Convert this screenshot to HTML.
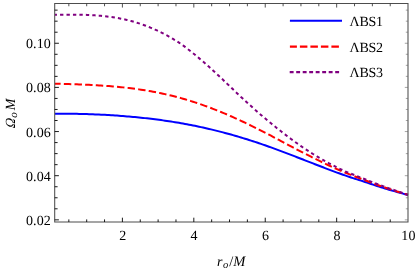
<!DOCTYPE html>
<html><head><meta charset="utf-8"><title>plot</title>
<style>
html,body{margin:0;padding:0;background:#fff;}
svg{display:block;}
text{font-family:"Liberation Serif","DejaVu Serif",serif;font-size:14px;fill:#000;text-rendering:geometricPrecision;stroke:none;}
.it{font-style:italic;}
.lg{letter-spacing:-0.3px;}
.tk{letter-spacing:0.15px;}
</style></head><body>
<svg width="415" height="271" viewBox="0 0 415 271">
<rect width="415" height="271" fill="#fff"/>
<g fill="none" stroke-linejoin="round">
<path d="M55.0,113.82 L57.0,113.79 L59.0,113.77 L61.0,113.75 L63.0,113.74 L65.0,113.74 L67.0,113.74 L69.0,113.75 L71.0,113.76 L73.0,113.78 L75.0,113.81 L77.0,113.84 L79.0,113.88 L81.0,113.93 L83.0,113.98 L85.0,114.03 L87.0,114.09 L89.0,114.16 L91.0,114.23 L93.0,114.30 L95.0,114.39 L97.0,114.47 L99.0,114.56 L101.0,114.66 L103.0,114.76 L105.0,114.87 L107.0,114.98 L109.0,115.10 L111.0,115.22 L113.0,115.35 L115.0,115.48 L117.0,115.62 L119.0,115.76 L121.0,115.91 L123.0,116.06 L125.0,116.22 L127.0,116.38 L129.0,116.55 L131.0,116.73 L133.0,116.91 L135.0,117.10 L137.0,117.29 L139.0,117.49 L141.0,117.69 L143.0,117.91 L145.0,118.12 L147.0,118.35 L149.0,118.58 L151.0,118.81 L153.0,119.06 L155.0,119.31 L157.0,119.56 L159.0,119.83 L161.0,120.10 L163.0,120.37 L165.0,120.66 L167.0,120.95 L169.0,121.25 L171.0,121.56 L173.0,121.87 L175.0,122.19 L177.0,122.52 L179.0,122.86 L181.0,123.21 L183.0,123.56 L185.0,123.92 L187.0,124.29 L189.0,124.67 L191.0,125.05 L193.0,125.45 L195.0,125.85 L197.0,126.26 L199.0,126.68 L201.0,127.11 L203.0,127.55 L205.0,127.99 L207.0,128.45 L209.0,128.91 L211.0,129.38 L213.0,129.86 L215.0,130.35 L217.0,130.85 L219.0,131.35 L221.0,131.87 L223.0,132.39 L225.0,132.92 L227.0,133.46 L229.0,134.01 L231.0,134.57 L233.0,135.14 L235.0,135.71 L237.0,136.29 L239.0,136.88 L241.0,137.48 L243.0,138.09 L245.0,138.71 L247.0,139.33 L249.0,139.96 L251.0,140.60 L253.0,141.24 L255.0,141.90 L257.0,142.56 L259.0,143.22 L261.0,143.90 L263.0,144.58 L265.0,145.28 L267.0,145.98 L269.0,146.69 L271.0,147.40 L273.0,148.13 L275.0,148.86 L277.0,149.59 L279.0,150.33 L281.0,151.08 L283.0,151.83 L285.0,152.59 L287.0,153.35 L289.0,154.12 L291.0,154.89 L293.0,155.66 L295.0,156.43 L297.0,157.21 L299.0,157.98 L301.0,158.76 L303.0,159.54 L305.0,160.32 L307.0,161.10 L309.0,161.87 L311.0,162.65 L313.0,163.43 L315.0,164.20 L317.0,164.98 L319.0,165.75 L321.0,166.53 L323.0,167.30 L325.0,168.07 L327.0,168.83 L329.0,169.60 L331.0,170.36 L333.0,171.11 L335.0,171.85 L337.0,172.58 L339.0,173.30 L341.0,174.01 L343.0,174.72 L345.0,175.42 L347.0,176.11 L349.0,176.78 L351.0,177.43 L353.0,178.08 L355.0,178.71 L357.0,179.34 L359.0,179.98 L361.0,180.62 L363.0,181.26 L365.0,181.93 L367.0,182.60 L369.0,183.28 L371.0,183.95 L373.0,184.62 L375.0,185.28 L377.0,185.94 L379.0,186.58 L381.0,187.22 L383.0,187.85 L385.0,188.47 L387.0,189.08 L389.0,189.67 L391.0,190.26 L393.0,190.84 L395.0,191.41 L397.0,191.98 L399.0,192.54 L401.0,193.09 L403.0,193.63 L405.0,194.16 L407.0,194.67 L408.0,194.92" stroke="#0000ff" stroke-width="2"/>
<path d="M55.0,83.76 L57.0,83.79 L59.0,83.83 L61.0,83.88 L63.0,83.92 L65.0,83.97 L67.0,84.02 L69.0,84.08 L71.0,84.14 L73.0,84.20 L75.0,84.26 L77.0,84.33 L79.0,84.40 L81.0,84.48 L83.0,84.56 L85.0,84.65 L87.0,84.74 L89.0,84.83 L91.0,84.93 L93.0,85.03 L95.0,85.14 L97.0,85.26 L99.0,85.38 L101.0,85.51 L103.0,85.64 L105.0,85.78 L107.0,85.93 L109.0,86.08 L111.0,86.24 L113.0,86.41 L115.0,86.58 L117.0,86.77 L119.0,86.96 L121.0,87.16 L123.0,87.37 L125.0,87.58 L127.0,87.81 L129.0,88.04 L131.0,88.29 L133.0,88.55 L135.0,88.81 L137.0,89.09 L139.0,89.37 L141.0,89.67 L143.0,89.98 L145.0,90.29 L147.0,90.62 L149.0,90.97 L151.0,91.32 L153.0,91.69 L155.0,92.06 L157.0,92.45 L159.0,92.86 L161.0,93.27 L163.0,93.70 L165.0,94.14 L167.0,94.59 L169.0,95.06 L171.0,95.54 L173.0,96.04 L175.0,96.54 L177.0,97.07 L179.0,97.60 L181.0,98.15 L183.0,98.71 L185.0,99.29 L187.0,99.88 L189.0,100.48 L191.0,101.10 L193.0,101.73 L195.0,102.38 L197.0,103.04 L199.0,103.71 L201.0,104.40 L203.0,105.10 L205.0,105.82 L207.0,106.55 L209.0,107.29 L211.0,108.04 L213.0,108.81 L215.0,109.59 L217.0,110.39 L219.0,111.19 L221.0,112.01 L223.0,112.84 L225.0,113.68 L227.0,114.54 L229.0,115.40 L231.0,116.28 L233.0,117.17 L235.0,118.07 L237.0,118.97 L239.0,119.89 L241.0,120.82 L243.0,121.76 L245.0,122.71 L247.0,123.66 L249.0,124.62 L251.0,125.60 L253.0,126.57 L255.0,127.56 L257.0,128.55 L259.0,129.55 L261.0,130.56 L263.0,131.58 L265.0,132.60 L267.0,133.63 L269.0,134.68 L271.0,135.73 L273.0,136.78 L275.0,137.84 L277.0,138.90 L279.0,139.97 L281.0,141.04 L283.0,142.11 L285.0,143.18 L287.0,144.25 L289.0,145.31 L291.0,146.38 L293.0,147.44 L295.0,148.49 L297.0,149.55 L299.0,150.59 L301.0,151.63 L303.0,152.66 L305.0,153.68 L307.0,154.70 L309.0,155.72 L311.0,156.73 L313.0,157.73 L315.0,158.72 L317.0,159.71 L319.0,160.69 L321.0,161.67 L323.0,162.63 L325.0,163.59 L327.0,164.54 L329.0,165.49 L331.0,166.42 L333.0,167.33 L335.0,168.23 L337.0,169.12 L339.0,169.99 L341.0,170.85 L343.0,171.70 L345.0,172.53 L347.0,173.36 L349.0,174.16 L351.0,174.94 L353.0,175.70 L355.0,176.45 L357.0,177.20 L359.0,177.94 L361.0,178.69 L363.0,179.44 L365.0,180.20 L367.0,180.97 L369.0,181.73 L371.0,182.49 L373.0,183.24 L375.0,183.98 L377.0,184.71 L379.0,185.44 L381.0,186.15 L383.0,186.85 L385.0,187.53 L387.0,188.21 L389.0,188.87 L391.0,189.52 L393.0,190.16 L395.0,190.80 L397.0,191.43 L399.0,192.05 L401.0,192.67 L403.0,193.27 L405.0,193.86 L407.0,194.44 L408.0,194.72" stroke="#ff0000" stroke-width="2" stroke-dasharray="7.45 3.2" stroke-dashoffset="1.8"/>
<path d="M55.0,14.85 L57.0,14.80 L59.0,14.76 L61.0,14.72 L63.0,14.69 L65.0,14.66 L67.0,14.64 L69.0,14.63 L71.0,14.63 L73.0,14.63 L75.0,14.64 L77.0,14.66 L79.0,14.69 L81.0,14.73 L83.0,14.78 L85.0,14.84 L87.0,14.92 L89.0,15.00 L91.0,15.10 L93.0,15.21 L95.0,15.34 L97.0,15.48 L99.0,15.64 L101.0,15.82 L103.0,16.01 L105.0,16.22 L107.0,16.45 L109.0,16.71 L111.0,16.98 L113.0,17.27 L115.0,17.58 L117.0,17.92 L119.0,18.28 L121.0,18.67 L123.0,19.08 L125.0,19.51 L127.0,19.98 L129.0,20.47 L131.0,20.98 L133.0,21.53 L135.0,22.11 L137.0,22.71 L139.0,23.35 L141.0,24.01 L143.0,24.71 L145.0,25.44 L147.0,26.20 L149.0,27.00 L151.0,27.82 L153.0,28.67 L155.0,29.55 L157.0,30.46 L159.0,31.40 L161.0,32.37 L163.0,33.37 L165.0,34.41 L167.0,35.48 L169.0,36.59 L171.0,37.73 L173.0,38.91 L175.0,40.12 L177.0,41.38 L179.0,42.67 L181.0,44.01 L183.0,45.42 L185.0,46.89 L187.0,48.41 L189.0,49.98 L191.0,51.57 L193.0,53.19 L195.0,54.82 L197.0,56.47 L199.0,58.14 L201.0,59.83 L203.0,61.55 L205.0,63.29 L207.0,65.05 L209.0,66.83 L211.0,68.64 L213.0,70.46 L215.0,72.31 L217.0,74.17 L219.0,76.04 L221.0,77.92 L223.0,79.81 L225.0,81.70 L227.0,83.60 L229.0,85.51 L231.0,87.42 L233.0,89.34 L235.0,91.25 L237.0,93.15 L239.0,95.03 L241.0,96.90 L243.0,98.76 L245.0,100.61 L247.0,102.45 L249.0,104.28 L251.0,106.09 L253.0,107.90 L255.0,109.69 L257.0,111.47 L259.0,113.22 L261.0,114.94 L263.0,116.65 L265.0,118.33 L267.0,120.01 L269.0,121.67 L271.0,123.32 L273.0,124.96 L275.0,126.57 L277.0,128.16 L279.0,129.74 L281.0,131.30 L283.0,132.85 L285.0,134.39 L287.0,135.92 L289.0,137.43 L291.0,138.93 L293.0,140.40 L295.0,141.86 L297.0,143.29 L299.0,144.71 L301.0,146.10 L303.0,147.47 L305.0,148.82 L307.0,150.14 L309.0,151.45 L311.0,152.73 L313.0,153.99 L315.0,155.23 L317.0,156.44 L319.0,157.63 L321.0,158.80 L323.0,159.95 L325.0,161.08 L327.0,162.19 L329.0,163.28 L331.0,164.35 L333.0,165.39 L335.0,166.42 L337.0,167.43 L339.0,168.42 L341.0,169.39 L343.0,170.32 L345.0,171.22 L347.0,172.08 L349.0,172.93 L351.0,173.75 L353.0,174.55 L355.0,175.34 L357.0,176.13 L359.0,176.91 L361.0,177.69 L363.0,178.48 L365.0,179.27 L367.0,180.08 L369.0,180.88 L371.0,181.67 L373.0,182.45 L375.0,183.22 L377.0,183.99 L379.0,184.74 L381.0,185.47 L383.0,186.20 L385.0,186.92 L387.0,187.63 L389.0,188.33 L391.0,189.01 L393.0,189.70 L395.0,190.39 L397.0,191.08 L399.0,191.77 L401.0,192.45 L403.0,193.13 L405.0,193.80 L407.0,194.46 L408.0,194.78" stroke="#800080" stroke-width="2" stroke-dasharray="3.35 3.1" stroke-dashoffset="1.4"/>
</g>
<g fill="none" stroke-linecap="square">
<path d="M54.7,3.55 H408.0 V222.0 H54.7 Z" stroke="#4d4d4d" stroke-width="1.05"/>
</g>
<path d="M68.83,222.0 v-2.6 M86.69,222.0 v-2.6 M104.54,222.0 v-2.6 M122.40,222.0 v-4.3 M140.25,222.0 v-2.6 M158.11,222.0 v-2.6 M175.97,222.0 v-2.6 M193.82,222.0 v-4.3 M211.67,222.0 v-2.6 M229.53,222.0 v-2.6 M247.38,222.0 v-2.6 M265.24,222.0 v-4.3 M283.10,222.0 v-2.6 M300.95,222.0 v-2.6 M318.81,222.0 v-2.6 M336.66,222.0 v-4.3 M354.52,222.0 v-2.6 M372.37,222.0 v-2.6 M390.23,222.0 v-2.6 M54.7,219.85 h4.2 M54.7,208.81 h2.9 M54.7,197.78 h2.9 M54.7,186.74 h2.9 M54.7,175.70 h4.2 M54.7,164.66 h2.9 M54.7,153.62 h2.9 M54.7,142.59 h2.9 M54.7,131.55 h4.2 M54.7,120.51 h2.9 M54.7,109.47 h2.9 M54.7,98.44 h2.9 M54.7,87.40 h4.2 M54.7,76.36 h2.9 M54.7,65.33 h2.9 M54.7,54.29 h2.9 M54.7,43.25 h4.2 M54.7,32.21 h2.9 M54.7,21.18 h2.9 M54.7,10.14 h2.9" stroke="#000" stroke-width="0.9" fill="none"/>
<path d="M408.0,219.85 h-3.2 M408.0,208.81 h-2.2 M408.0,197.78 h-2.2 M408.0,186.74 h-2.2 M408.0,175.70 h-3.2 M408.0,164.66 h-2.2 M408.0,153.62 h-2.2 M408.0,142.59 h-2.2 M408.0,131.55 h-3.2 M408.0,120.51 h-2.2 M408.0,109.47 h-2.2 M408.0,98.44 h-2.2 M408.0,87.40 h-3.2 M408.0,76.36 h-2.2 M408.0,65.33 h-2.2 M408.0,54.29 h-2.2 M408.0,43.25 h-3.2 M408.0,32.21 h-2.2 M408.0,21.18 h-2.2 M408.0,10.14 h-2.2" stroke="#666" stroke-width="0.6" fill="none"/>
<path d="M68.83,3.55 v2.7 M86.69,3.55 v2.7 M104.54,3.55 v2.7 M122.40,3.55 v4.0 M140.25,3.55 v2.7 M158.11,3.55 v2.7 M175.97,3.55 v2.7 M193.82,3.55 v4.0 M211.67,3.55 v2.7 M229.53,3.55 v2.7 M247.38,3.55 v2.7 M265.24,3.55 v4.0 M283.10,3.55 v2.7 M300.95,3.55 v2.7 M318.81,3.55 v2.7 M336.66,3.55 v4.0 M354.52,3.55 v2.7 M372.37,3.55 v2.7 M390.23,3.55 v2.7" stroke="#333" stroke-width="0.85" fill="none"/>
<g class="tk"><text x="122.8" y="239.6" text-anchor="middle">2</text><text x="194.2" y="239.6" text-anchor="middle">4</text><text x="265.6" y="239.6" text-anchor="middle">6</text><text x="337.0" y="239.6" text-anchor="middle">8</text><text x="408.4" y="239.6" text-anchor="middle">10</text><text x="51.0" y="225.1" text-anchor="end">0.02</text><text x="51.0" y="180.6" text-anchor="end">0.04</text><text x="51.0" y="136.5" text-anchor="end">0.06</text><text x="51.0" y="92.3" text-anchor="end">0.08</text><text x="51.0" y="48.1" text-anchor="end">0.10</text></g>
<g fill="none">
<path d="M289.9,20.75 H342" stroke="#0000ff" stroke-width="2.1"/>
<path d="M289.9,46.6 H340" stroke="#ff0000" stroke-width="2.1" stroke-dasharray="7.5 3.0" stroke-dashoffset="0.5"/>
<path d="M289.7,72.1 H340" stroke="#800080" stroke-width="2.1" stroke-dasharray="3.9 2.6"/>
</g>
<text class="lg" x="349.6" y="25.6">ΛBS1</text>
<text class="lg" x="349.6" y="51.5">ΛBS2</text>
<text class="lg" x="349.6" y="77.4">ΛBS3</text>
<text class="it" y="265.7"><tspan x="217">r</tspan><tspan x="223.1" font-size="10.5" dy="2.2">o</tspan><tspan x="229.3" dy="-2.2" font-style="normal" font-size="14.5">/</tspan><tspan x="233.2" font-size="14.6">M</tspan></text>
<text font-size="16" transform="translate(15.1,128.7) rotate(-90) skewX(-15) scale(0.92,1)">Ω</text>
<text class="it" font-size="15" transform="translate(15.1,128.4) rotate(-90)"><tspan x="10.6" font-size="11" dy="1.8">o</tspan><tspan x="18.2" dy="-1.8">M</tspan></text>
</svg>
</body></html>
